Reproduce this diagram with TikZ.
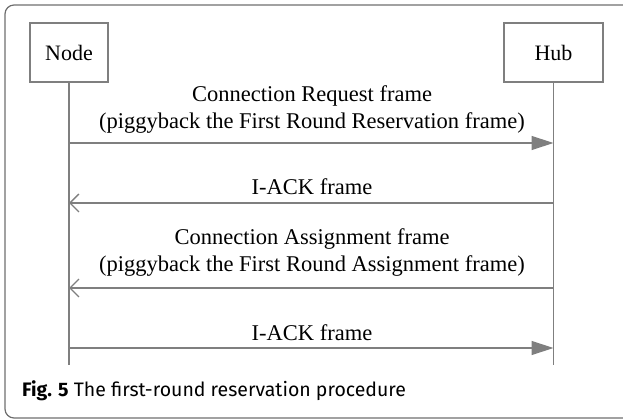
\documentclass[tikz,border=0pt]{standalone}
\usepackage{fontspec}
\setmainfont{Liberation Serif}
\newfontfamily\capfont{Fira Sans}
\usetikzlibrary{arrows.meta}
\definecolor{lc}{HTML}{7F7F7F}
\definecolor{fc}{HTML}{6E6E6E}
\begin{document}
\begin{tikzpicture}[x=1pt,y=-1pt,
  actor/.style={draw=lc,line width=1.3pt,minimum width=78pt,minimum height=59pt,inner sep=0pt,font=\fontsize{22}{24}\selectfont},
  life/.style={draw=lc,line width=1.3pt},
  msgr/.style={draw=lc,line width=1.3pt,-{Triangle[length=22pt,width=14pt,fill=lc]}},
  msgl/.style={draw=lc,line width=1.3pt,-{Straight Barb[length=9pt,width=18pt,line width=1.3pt]}},
  lbl/.style={font=\fontsize{22.5}{27}\selectfont,align=center,inner sep=0pt}]
\useasboundingbox (0,0) rectangle (623,419);
\draw[fc,line width=1.2pt,rounded corners=9pt] (623,5) -- (5,5) -- (5,418) -- (623,418);
\node[actor] (node) at (69,52.5) {Node};
\node[actor,minimum width=99pt] (hub) at (553.5,52.5) {Hub};
\coordinate (nend) at (69,365);
\coordinate (hend) at (553.5,365);
\draw[life] (node.south) -- (nend);
\draw[life] (hub.south) -- (hend);
\coordinate (n1) at (69,143); \coordinate (h1) at (553.5,143);
\coordinate (n2) at (69,203); \coordinate (h2) at (553.5,203);
\coordinate (n3) at (69,288); \coordinate (h3) at (553.5,288);
\coordinate (n4) at (69,348); \coordinate (h4) at (553.5,348);
\draw[msgr] (n1) -- (h1);
\draw[msgl] (h2) -- (n2);
\draw[msgl] (h3) -- (n3);
\draw[msgr] (n4) -- (h4);
\node[lbl] (l1) at (312,110) {Connection Request frame\\(piggyback the First Round Reservation frame)};
\node[lbl] (l2) at (312,187) {I-ACK frame};
\node[lbl] (l3) at (312,253) {Connection Assignment frame\\(piggyback the First Round Assignment frame)};
\node[lbl] (l4) at (312,333) {I-ACK frame};
\node[anchor=west,inner sep=0pt,font=\capfont\fontsize{19.5}{22}\selectfont] (cap) at (22,391) {\textbf{Fig. 5} The first-round reservation procedure};
\end{tikzpicture}
\end{document}
